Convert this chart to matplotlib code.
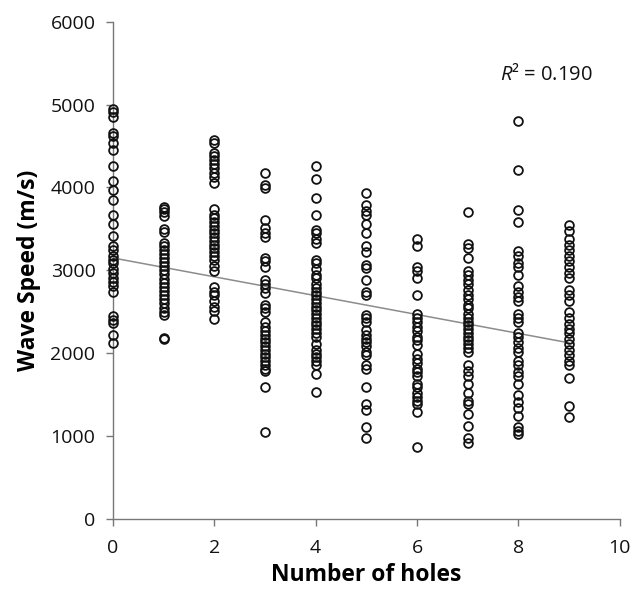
import matplotlib
matplotlib.use("Agg")
import matplotlib.pyplot as plt

plt.rcParams['font.family'] = ['Open Sans', 'DejaVu Sans']
plt.rcParams['mathtext.fontset'] = 'custom'
plt.rcParams['mathtext.it'] = 'Open Sans:italic'
plt.rcParams['mathtext.rm'] = 'Open Sans'

holes_0 = [4952, 4907, 4853, 4662, 4617, 4535, 4454, 4263, 4073, 3968, 3855, 3673, 3560, 3410,
           3288, 3243, 3175, 3129, 3084, 3016, 2971, 2912, 2857, 2812, 2744, 2449, 2404, 2367, 2222, 2122]
holes_1 = [3770, 3740, 3700, 3650, 3500, 3460, 3330, 3290, 3250, 3200, 3150, 3100, 3050, 3000,
           2950, 2900, 2850, 2800, 2750, 2700, 2650, 2600, 2550, 2500, 2460, 2180, 2170]
holes_2 = [4571, 4540, 4420, 4375, 4330, 4280, 4240, 4170, 4125, 4060, 3741, 3673, 3630, 3580,
           3540, 3490, 3450, 3400, 3360, 3310, 3270, 3220, 3175, 3129, 3050, 2990, 2800, 2740,
           2700, 2630, 2560, 2510, 2413]
holes_3 = [4181, 4036, 3991, 3605, 3515, 3447, 3401, 3152, 3107, 3039, 2880, 2834, 2789, 2721,
           2585, 2540, 2494, 2381, 2313, 2268, 2222, 2177, 2132, 2086, 2041, 1995, 1950, 1905,
           1859, 1814, 1791, 1587, 1052]
holes_4 = [4263, 4104, 3878, 3673, 3492, 3447, 3379, 3333, 3129, 3084, 3016, 2948, 2902, 2834,
           2789, 2744, 2698, 2653, 2608, 2562, 2517, 2472, 2426, 2381, 2336, 2290, 2245, 2200,
           2109, 2041, 1995, 1950, 1905, 1859, 1746, 1528]
holes_5 = [3937, 3787, 3719, 3673, 3560, 3447, 3288, 3220, 3061, 3030, 2880, 2744, 2698, 2458,
           2426, 2381, 2277, 2222, 2177, 2132, 2086, 2018, 1973, 1859, 1814, 1596, 1383, 1315,
           1111, 975]
holes_6 = [3379, 3288, 3039, 2993, 2902, 2698, 2472, 2426, 2381, 2313, 2268, 2200, 2154, 2095,
           1995, 1927, 1882, 1814, 1769, 1723, 1633, 1587, 1519, 1474, 1429, 1383, 1293, 862]
holes_7 = [3705, 3320, 3265, 3152, 2993, 2948, 2880, 2834, 2766, 2698, 2653, 2585, 2540, 2472,
           2426, 2381, 2336, 2290, 2245, 2200, 2154, 2109, 2063, 2018, 1859, 1791, 1723, 1633,
           1519, 1429, 1383, 1270, 1120, 975, 916]
holes_8 = [4807, 4209, 3728, 3583, 3229, 3175, 3084, 3039, 2948, 2812, 2744, 2676, 2630, 2472,
           2426, 2381, 2245, 2200, 2132, 2063, 2018, 1905, 1859, 1769, 1723, 1633, 1497, 1406,
           1338, 1247, 1111, 1066, 1020]
holes_9 = [3546, 3469, 3379, 3311, 3243, 3175, 3107, 3039, 2971, 2902, 2766, 2698, 2630, 2494,
           2426, 2358, 2290, 2245, 2177, 2109, 2041, 1973, 1905, 1859, 1701, 1361, 1224]

speeds_by_holes = [holes_0, holes_1, holes_2, holes_3, holes_4,
                   holes_5, holes_6, holes_7, holes_8, holes_9]

trend_x = [0, 9]
trend_y = [3150, 2125]
r2_text = "0.190"

xticks = [0, 2, 4, 6, 8, 10]
yticks = [0, 1000, 2000, 3000, 4000, 5000, 6000]

fig = plt.figure(figsize=(6.41, 5.89), dpi=100)
ax = fig.add_axes([0.176, 0.119, 0.791, 0.844])

for n, vals in enumerate(speeds_by_holes):
    ax.plot([n] * len(vals), vals, linestyle='none', marker='o', markersize=6.3,
            markerfacecolor='none', markeredgecolor='#111111', markeredgewidth=1.3,
            clip_on=False, zorder=3)

ax.plot(trend_x, trend_y, color='#8c8c8c', linewidth=1.1, zorder=2)

ax.set_xlim(0, 10)
ax.set_ylim(0, 6000)
ax.set_xticks(xticks)
ax.set_yticks(yticks)
for s in ['top', 'right']:
    ax.spines[s].set_visible(False)
for s in ['left', 'bottom']:
    ax.spines[s].set_color('#777777')
    ax.spines[s].set_linewidth(1.0)
ax.tick_params(axis='both', direction='out', length=5, width=1.0, color='#777777',
               labelsize=14, labelcolor='#111111')
ax.tick_params(axis='x', pad=9.5)
ax.tick_params(axis='y', pad=7.5)

ax.set_xlabel("Number of holes", fontsize=16.5, fontweight='bold', labelpad=4.5)
ax.set_ylabel("Wave Speed (m/s)", fontsize=16.5, fontweight='bold', labelpad=7)

ax.text(7.63, 5360, r"$R$² = " + r2_text, fontsize=14.5, va='center', ha='left', color='#111111')

fig.savefig("out.png", dpi=100)
